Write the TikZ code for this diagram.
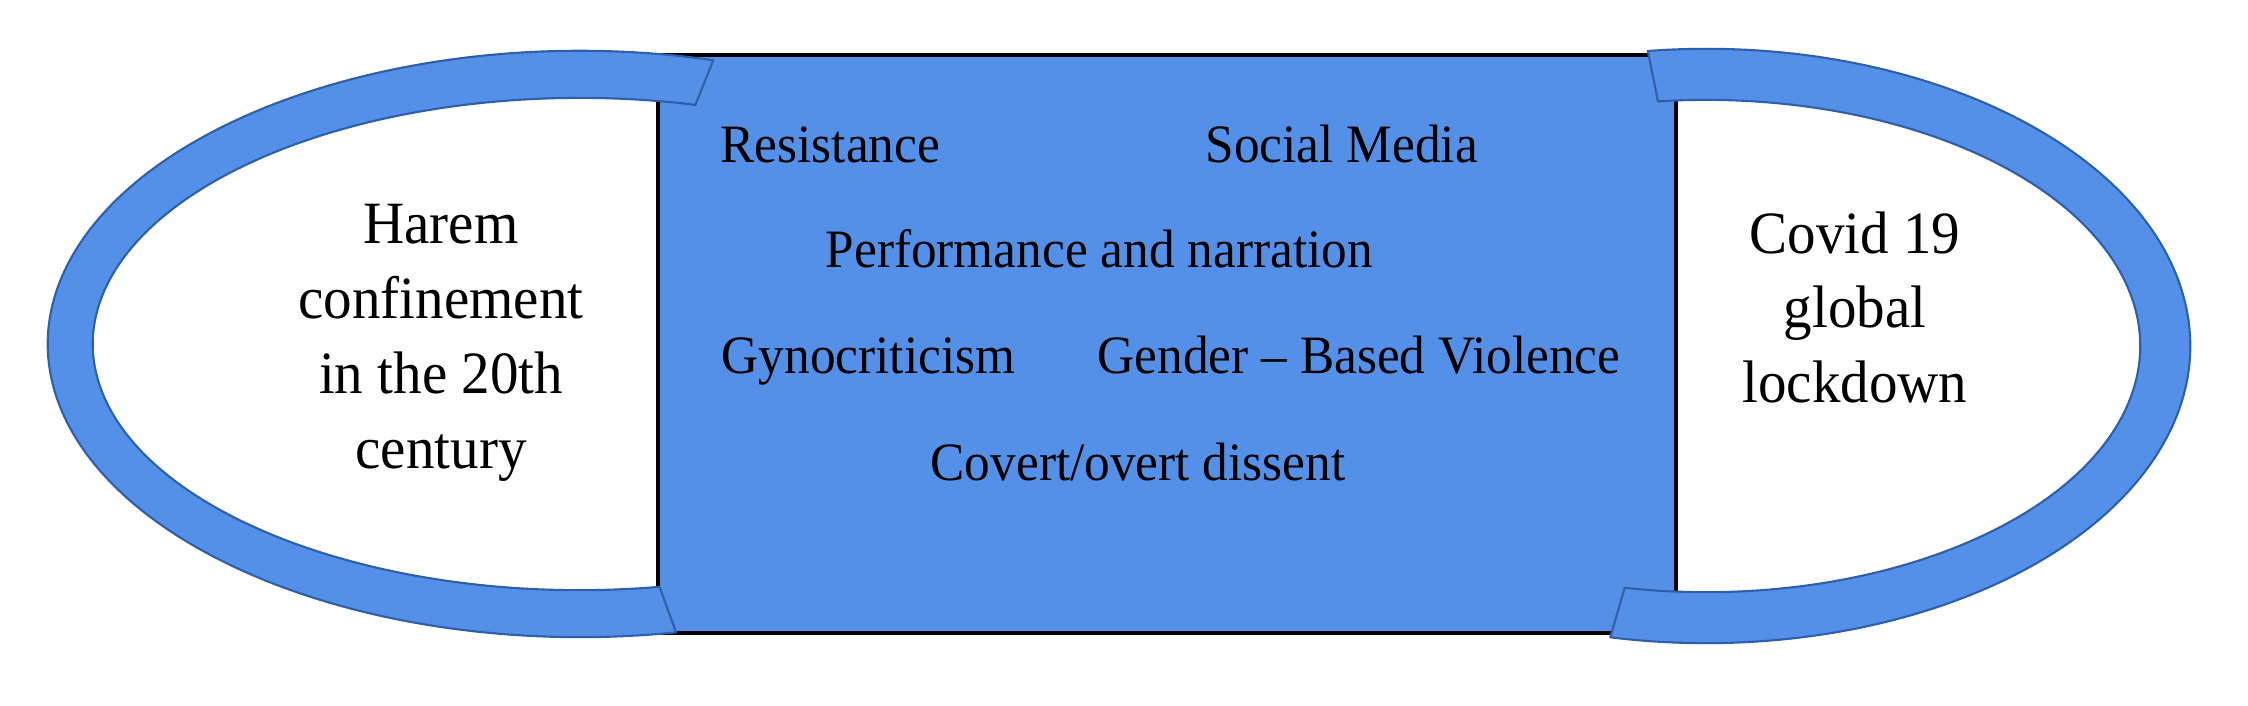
\documentclass[tikz,border=0pt]{standalone}
\usepackage{fontspec}
\setmainfont{Liberation Serif}[FakeStretch=0.95]
\definecolor{maskblue}{HTML}{5490E8}
\definecolor{ringedge}{HTML}{2F5FAA}
\tikzset{
  band/.style={fill=maskblue, draw=ringedge, line width=0.6pt, line join=round},
  panel/.style={fill=maskblue, draw=black, line width=1.2pt},
  sidetxt/.style={anchor=base, inner sep=0pt, font=\fontsize{17.07}{20}\selectfont},
  midtxt/.style={anchor=base west, inner sep=0pt, font=\fontsize{15.36}{18}\selectfont},
}
\begin{document}
\begin{tikzpicture}[x=0.01cm, y=-0.01cm]
\useasboundingbox[fill=white] (0,0) rectangle (2248,706);
% central panel
\draw[panel] (658,55) rectangle (1676,633);
% left loop
\begin{scope}[shift={(580,344)}]
\draw[band] (75.5:5.32cm and 2.93cm)
  arc[start angle=75.5, end angle=280.4, x radius=5.32cm, y radius=2.93cm]
  -- (279.4:4.87cm and 2.46cm)
  arc[start angle=279.4, end angle=76.3, x radius=4.87cm, y radius=2.46cm]
  -- cycle;
\end{scope}
% right loop
\begin{scope}[shift={(1706,346)}]
\draw[band] (96.9:4.84cm and 2.97cm)
  arc[start angle=96.9, end angle=-101.4, x radius=4.84cm, y radius=2.97cm]
  -- (-100.8:4.34cm and 2.46cm)
  arc[start angle=-100.8, end angle=96.35, x radius=4.34cm, y radius=2.46cm]
  -- cycle;
\end{scope}
% left text
\node[sidetxt] (l1) at (441,243) {Harem};
\node[sidetxt] (l2) at (441,318) {confinement};
\node[sidetxt] (l3) at (441,393) {in the 20th};
\node[sidetxt] (l4) at (441,468) {century};
% right text
\node[sidetxt] (r1) at (1855,253) {Covid 19};
\node[sidetxt] (r2) at (1855,327) {global};
\node[sidetxt] (r3) at (1855,402) {lockdown};
% middle text
\node[midtxt] (m1) at (720,162) {Resistance};
\node[midtxt] (m2) at (1205,162) {Social Media};
\node[midtxt] (m3) at (825,267) {Performance and narration};
\node[midtxt] (m4) at (721,373) {Gynocriticism};
\node[midtxt] (m5) at (1097,373) {Gender -- Based Violence};
\node[midtxt] (m6) at (930,480) {Covert/overt dissent};
\end{tikzpicture}
\end{document}
